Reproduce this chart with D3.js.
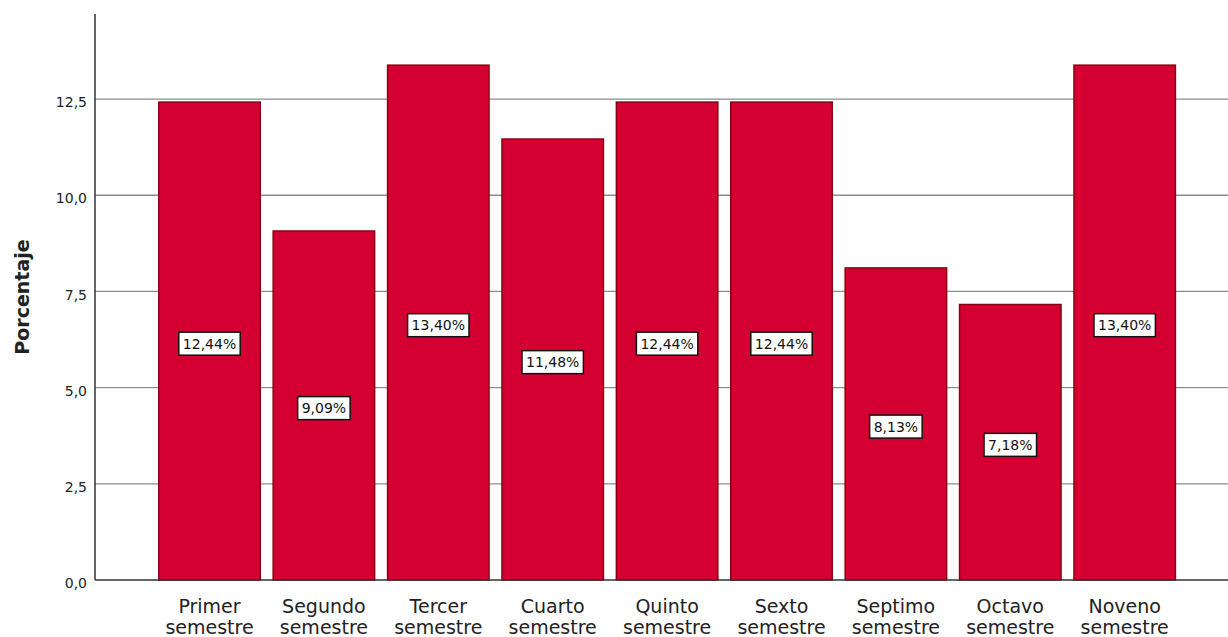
<!DOCTYPE html>
<html><head><meta charset="utf-8">
<script src="https://cdn.jsdelivr.net/npm/d3@7"></script>
<style>body{margin:0;background:#fff;} svg{display:block;}</style>
</head><body>
<svg id="chart" width="1228" height="637"></svg>
<script>
const categories = ["Primer semestre","Segundo semestre","Tercer semestre","Cuarto semestre","Quinto semestre","Sexto semestre","Septimo semestre","Octavo semestre","Noveno semestre"];
const values = [12.44, 9.09, 13.40, 11.48, 12.44, 12.44, 8.13, 7.18, 13.40];
const valueLabels = ["12,44%","9,09%","13,40%","11,48%","12,44%","12,44%","8,13%","7,18%","13,40%"];
const yTicks = [0, 2.5, 5, 7.5, 10, 12.5];
const yTickLabels = ["0,0","2,5","5,0","7,5","10,0","12,5"];

const FONT = "'DejaVu Sans', Verdana, sans-serif";
const svg = d3.select("#chart");
const x0 = 95, x1 = 1228, yBottom = 580, yTop = 14;
const y = d3.scaleLinear().domain([0, 14.71]).range([yBottom, yTop]);
const x = d3.scaleBand().domain(categories).range([152.3, 1181.9]).paddingInner(0.1).paddingOuter(0.05);

// gridlines
svg.append("g").selectAll("line").data(yTicks.filter(d => d > 0)).join("line")
  .attr("x1", x0).attr("x2", x1).attr("y1", d => y(d)).attr("y2", d => y(d))
  .attr("stroke", "#8c8c8c").attr("stroke-width", 1.3);

// bars
svg.append("g").selectAll("rect").data(values).join("rect")
  .attr("x", (d, i) => x(categories[i]) + 0.75)
  .attr("width", x.bandwidth() - 1.5)
  .attr("y", d => y(d) + 0.75)
  .attr("height", d => yBottom - y(d) - 0.75)
  .attr("fill", "#d40032").attr("stroke", "#8a0012").attr("stroke-width", 1.5);

// axes
const yAxis = d3.axisLeft(y).tickValues(yTicks).tickFormat((d, i) => yTickLabels[i]).tickSize(0).tickPadding(8);
const gy = svg.append("g").attr("transform", `translate(${x0},0)`).call(yAxis);
gy.select(".domain").remove();
gy.selectAll("text").attr("font-family", FONT).attr("font-size", 14).attr("fill", "#222").attr("dy", "0.55em");
svg.append("line").attr("x1", x0).attr("x2", x0).attr("y1", yTop).attr("y2", yBottom).attr("stroke", "#333").attr("stroke-width", 1.5);
svg.append("line").attr("x1", x0).attr("x2", x1).attr("y1", yBottom).attr("y2", yBottom).attr("stroke", "#333").attr("stroke-width", 1.3);

// x labels
const xl = svg.append("g").selectAll("text").data(categories).join("text")
  .attr("x", d => x(d) + x.bandwidth() / 2)
  .attr("y", 613)
  .attr("text-anchor", "middle")
  .attr("font-family", FONT)
  .attr("font-size", 19).attr("fill", "#222");
xl.each(function(d) {
  const parts = d.split(" ");
  const t = d3.select(this);
  t.append("tspan").attr("x", x(d) + x.bandwidth() / 2).attr("dy", 0).text(parts[0]);
  t.append("tspan").attr("x", x(d) + x.bandwidth() / 2).attr("dy", 21).text(parts[1]);
});

// y title
svg.append("text").attr("transform", "translate(29,297) rotate(-90)")
  .attr("text-anchor", "middle").attr("font-family", FONT)
  .attr("font-size", 19).attr("font-weight", "bold").attr("fill", "#222").text("Porcentaje");

// value labels
const lg = svg.append("g").selectAll("g").data(values).join("g")
  .attr("transform", (d, i) => `translate(${x(categories[i]) + x.bandwidth() / 2},${y(d / 2) + 3})`);
lg.each(function(d, i) {
  const g = d3.select(this);
  const t = g.append("text").attr("text-anchor", "middle").attr("dy", "0.36em")
    .attr("font-family", FONT).attr("font-size", 14).attr("fill", "#111")
    .text(valueLabels[i]);
  const bb = t.node().getBBox();
  g.insert("rect", "text").attr("x", bb.x - 4).attr("y", -11.5).attr("width", bb.width + 8).attr("height", 23)
    .attr("fill", "#fff").attr("stroke", "#111").attr("stroke-width", 1.5);
});
</script>
</body></html>
